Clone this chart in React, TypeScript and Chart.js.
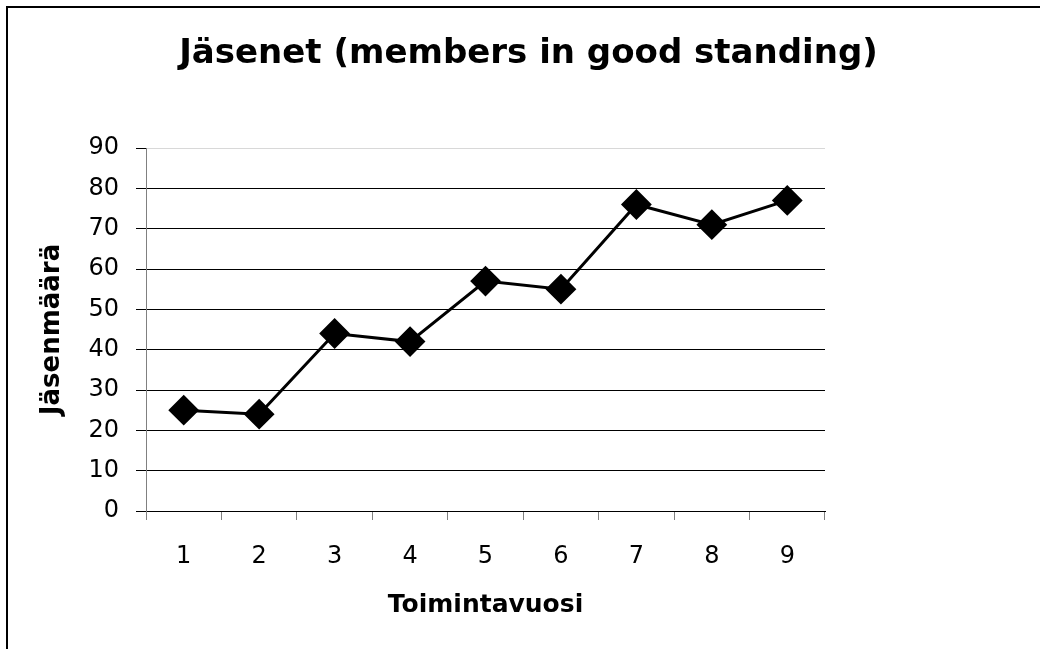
import React, { useEffect, useRef } from "react";
import { Chart, registerables } from "chart.js";

Chart.register(...registerables);

const categories = ["1", "2", "3", "4", "5", "6", "7", "8", "9"];
const members = [25, 24, 44, 42, 57, 55, 76, 71, 77];
const yMin = 0;
const yMax = 90;
const yStep = 10;
const titleText = "Jäsenet (members in good standing)";
const xTitle = "Toimintavuosi";
const yTitle = "Jäsenmäärä";

const FONT = "'DejaVu Sans', 'Liberation Sans', Arial, sans-serif";

const framePlugin = {
  id: "frame",
  afterDraw(chart: any) {
    const ctx = chart.ctx;
    ctx.save();
    ctx.strokeStyle = "#000";
    ctx.lineWidth = 2;
    ctx.beginPath();
    ctx.moveTo(7, chart.height + 5);
    ctx.lineTo(7, 7);
    ctx.lineTo(chart.width + 5, 7);
    ctx.stroke();
    ctx.restore();
  },
};

export default function App() {
  const ref = useRef<HTMLCanvasElement | null>(null);

  useEffect(() => {
    if (!ref.current) return;
    const chart = new Chart(ref.current, {
      type: "line",
      data: {
        labels: categories,
        datasets: [
          {
            data: members,
            borderColor: "#000",
            backgroundColor: "#000",
            borderWidth: 3,
            pointStyle: "rectRot",
            pointRadius: 14,
            pointBorderWidth: 2,
            pointBackgroundColor: "#000",
            pointBorderColor: "#000",
            tension: 0,
            fill: false,
            yAxisID: "y",
          },
        ],
      },
      options: {
        animation: false,
        responsive: false,
        devicePixelRatio: 1,
        layout: { padding: { left: 17, right: 0, top: 0, bottom: 0 } },
        plugins: {
          legend: { display: false },
          tooltip: { enabled: false },
          title: {
            display: true,
            text: titleText,
            color: "#000",
            font: { family: FONT, size: 34, weight: "bold", lineHeight: 1.2 },
            padding: { top: 34, bottom: 73.2 },
          },
        },
        scales: {
          x: {
            type: "category",
            offset: true,
            grid: {
              offset: true,
              drawOnChartArea: false,
              drawTicks: true,
              tickLength: 9,
              tickColor: "#808080",
              tickWidth: 1,
            },
            border: { display: true, color: "#000", width: 1 },
            ticks: {
              color: "#000",
              padding: 22,
              font: { family: FONT, size: 24, lineHeight: 1.2 },
              maxRotation: 0,
              autoSkip: false,
            },
            title: {
              display: true,
              text: xTitle,
              color: "#000",
              font: { family: FONT, size: 25, weight: "bold", lineHeight: 1.2 },
              padding: { top: 0, bottom: 29 },
            },
            afterFit: (s: any) => {
              s.height = 138;
            },
          },
          y: {
            type: "linear",
            position: "left",
            min: yMin,
            max: yMax,
            grid: {
              color: (c: any) => (c.tick && c.tick.value === yMax ? "#d8d8d8" : "#000"),
              lineWidth: 1,
              drawTicks: true,
              tickLength: 10,
              tickColor: "#000",
            },
            border: { display: true, color: "#808080", width: 1 },
            ticks: {
              stepSize: yStep,
              color: "#000",
              padding: 17,
              font: { family: FONT, size: 24, lineHeight: 1.2 },
            },
            title: {
              display: true,
              text: yTitle,
              color: "#000",
              font: { family: FONT, size: 26, weight: "bold", lineHeight: 1.2 },
              padding: { top: 20, bottom: 0 },
            },
            afterFit: (s: any) => {
              s.width = 129;
            },
          },
          y2: {
            type: "linear",
            position: "right",
            display: true,
            grid: { display: false, drawOnChartArea: false, drawTicks: false },
            border: { display: false },
            ticks: { display: false },
            afterFit: (s: any) => {
              s.width = 215;
            },
          },
        },
      },
      plugins: [framePlugin],
    } as any);
    return () => chart.destroy();
  }, []);

  return (
    <div style={{ position: "fixed", left: 0, top: 0, width: 1040, height: 649, background: "#fff" }}>
      <canvas ref={ref} width={1040} height={649} style={{ width: 1040, height: 649, display: "block" }} />
    </div>
  );
}
